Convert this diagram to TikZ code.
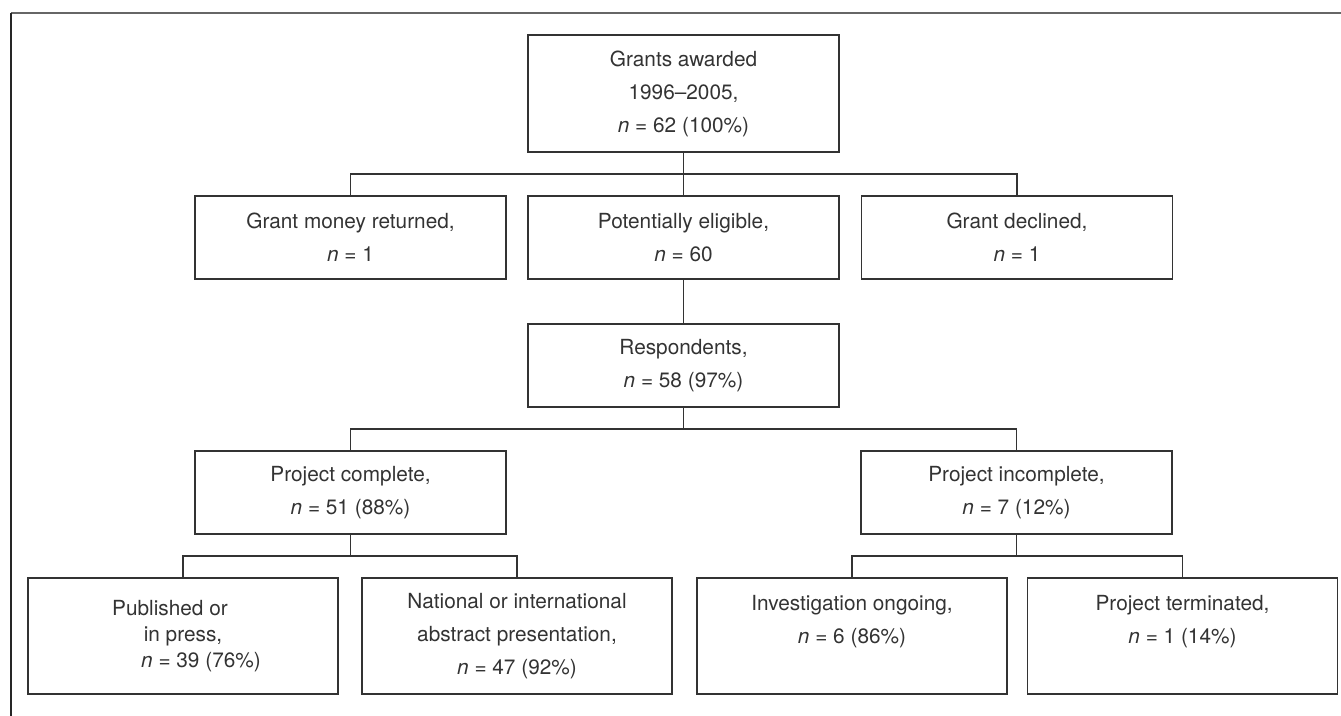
\documentclass[tikz,border=0pt]{standalone}
\usepackage{fontspec}
\setmainfont{TeX Gyre Heros}

\begin{document}
\begin{tikzpicture}[
    x=0.5pt, y=0.5pt,
    every node/.style={font=\fontsize{10.4}{16.5}\selectfont, text=black!80},
    stage/.style={
        draw=black!80,
        line width=0.75pt,
        align=center,
        inner sep=0pt,
        outer sep=0pt,
        minimum width=155.5pt,
        minimum height=41.5pt
    },
    outcome/.style={stage, minimum width=155pt, minimum height=58pt},
    link/.style={draw=black!80, line width=0.75pt}
]

\useasboundingbox (0,0) rectangle (1341,-716);
\draw[black!60, line width=1pt] (11,-13) -- (1341,-13);
\draw[black!85, line width=1pt] (11,-13) -- (11,-716);

\node[stage, minimum height=58.5pt] (Grants) at (683.5,-93.5) {%
Grants awarded\\
1996--2005,\\
\textit{n} = 62 (100\%)};

\node[stage] (Returned) at (350.5,-237.5) {Grant money returned,\\ \textit{n} = 1};
\node[stage] (Eligible) at (683.5,-237.5) {Potentially eligible,\\ \textit{n} = 60};
\node[stage] (Declined) at (1017,-237.5) {Grant declined,\\ \textit{n} = 1};

\node[stage] (Resp) at (683.5,-365.5) {Respondents,\\ \textit{n} = 58 (97\%)};

\node[stage] (Complete) at (350.5,-492.5) {Project complete,\\ \textit{n} = 51 (88\%)};
\node[stage] (Incomplete) at (1016.5,-492.5) {Project incomplete,\\ \textit{n} = 7 (12\%)};

\node[outcome, font=\fontsize{10.4}{13}\selectfont] (Published) at (183,-636) {%
Published or\hspace*{13pt}\\
in press,\hspace*{18pt}\\
\hspace*{18pt}\textit{n} = 39 (76\%)};
\node[outcome] (Abstract) at (517,-636) {%
National or international\\
abstract presentation,\\
\textit{n} = 47 (92\%)};
\node[outcome] (Ongoing) at (852,-636) {Investigation ongoing,\\ \textit{n} = 6 (86\%)\\ \mbox{}};
\node[outcome] (Terminated) at (1182.5,-636) {Project terminated,\\ \textit{n} = 1 (14\%)\\ \mbox{}};

% tree connectors
\draw[link] (Grants.south) -- ++(0,-22) coordinate (j1);
\draw[link] (j1) -| (Returned.north);
\draw[link] (j1) -| (Declined.north);
\draw[link] (j1) -- (Eligible.north);

\draw[link] (Eligible.south) -- (Resp.north);

\draw[link] (Resp.south) -- ++(0,-22) coordinate (j2);
\draw[link] (j2) -| (Complete.north);
\draw[link] (j2) -| (Incomplete.north);

\draw[link] (Complete.south) -- ++(0,-22) coordinate (j3);
\draw[link] (j3) -| (Published.north);
\draw[link] (j3) -| (Abstract.north);

\draw[link] (Incomplete.south) -- ++(0,-22) coordinate (j4);
\draw[link] (j4) -| (Ongoing.north);
\draw[link] (j4) -| (Terminated.north);

\end{tikzpicture}
\end{document}
